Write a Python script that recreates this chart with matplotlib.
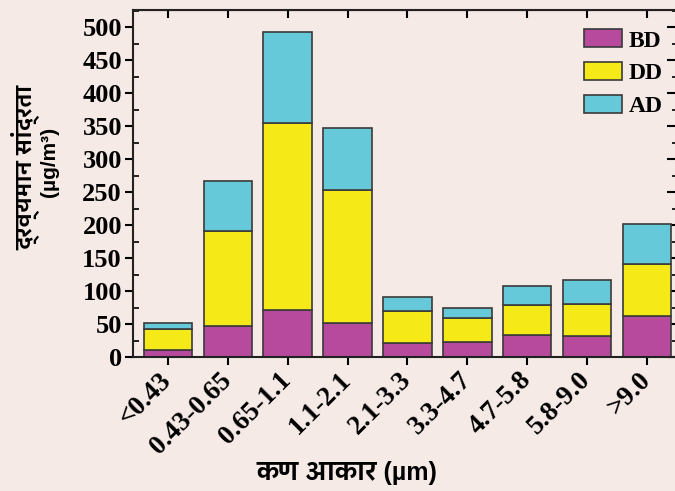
import matplotlib
matplotlib.use("Agg")
import matplotlib.pyplot as plt
from matplotlib import font_manager
from matplotlib.ticker import MultipleLocator, NullFormatter
import numpy as np

categories = ["<0.43", "0.43-0.65", "0.65-1.1", "1.1-2.1", "2.1-3.3",
              "3.3-4.7", "4.7-5.8", "5.8-9.0", ">9.0"]
bd = [10, 47, 71, 51, 21, 22, 34, 32, 62]
dd = [33, 144, 284, 202, 48, 37, 45, 48, 79]
ad = [8, 76, 137, 94, 22, 16, 29, 36, 60]
series_names = ["BD", "DD", "AD"]
colors = ["#B84A9E", "#F5E918", "#66C9DA"]
ylabel_hi = "द्रव्यमान सांद्रता"
ylabel_unit = "(µg/m³)"
xlabel_hi = "कण आकार (µm)"


def find_font_with(ch):
    try:
        from fontTools.ttLib import TTFont
    except Exception:
        return None
    cands = []
    for f in font_manager.fontManager.ttflist:
        try:
            tt = TTFont(f.fname, fontNumber=0, lazy=True)
            cmap = tt.getBestCmap()
            if cmap and ord(ch) in cmap:
                score = 0
                if "sans" in f.name.lower():
                    score += 2
                if "serif" in f.name.lower():
                    score -= 2
                if f.weight in ("bold", 700):
                    score += 1
                cands.append((score, f.name))
        except Exception:
            continue
    if not cands:
        return None
    cands.sort(key=lambda t: -t[0])
    return cands[0][1]


deva = find_font_with("द")
fam = ["Liberation Sans"] + ([deva] if deva else []) + ["DejaVu Sans"]

bg = "#F6EAE6"
fig = plt.figure(figsize=(6.75, 4.91), dpi=100, facecolor=bg)
left_px, right_px, top_px, bot_px = 133, 678, 10, 357
ax = fig.add_axes([left_px / 675, 1 - bot_px / 491,
                   (right_px - left_px) / 675, (bot_px - top_px) / 491])
ax.set_facecolor(bg)

x = np.arange(len(categories))
bottom = np.zeros(len(categories))
handles = []
for vals, name, c in zip([bd, dd, ad], series_names, colors):
    h = ax.bar(x, vals, width=0.81, bottom=bottom, color=c, edgecolor="#3a3a3a",
               linewidth=1.2, label=name)
    handles.append(h)
    bottom += np.array(vals)

ax.set_xlim(-0.585, 8.52)
ax.set_ylim(0, 526)
ax.yaxis.set_major_locator(MultipleLocator(50))
ax.yaxis.set_minor_locator(MultipleLocator(25))
ax.set_xticks(x)
ax.set_xticklabels(categories, rotation=45, ha="right", va="center",
                   rotation_mode="anchor", fontfamily="Liberation Serif",
                   fontweight="bold", fontsize=19.5)
for lab in ax.get_yticklabels():
    lab.set_fontfamily("Liberation Serif")
    lab.set_fontweight("bold")
    lab.set_fontsize(19)

ax.tick_params(axis="y", which="major", direction="out", length=6, width=1.5, pad=2)
ax.tick_params(axis="y", which="minor", direction="in", length=4, width=1.2)
ax.tick_params(axis="x", which="major", direction="out", length=6, width=1.5, pad=8)
for s in ax.spines.values():
    s.set_linewidth(1.5)
    s.set_color("#222222")

# top ticks pointing inward
secx = ax.secondary_xaxis("top")
secx.set_xticks(x)
secx.xaxis.set_major_formatter(NullFormatter())
secx.tick_params(direction="in", length=6, width=1.5)
# right ticks pointing inward
secy = ax.secondary_yaxis("right")
secy.yaxis.set_major_locator(MultipleLocator(50))
secy.yaxis.set_minor_locator(MultipleLocator(25))
secy.yaxis.set_major_formatter(NullFormatter())
secy.tick_params(which="major", direction="in", length=8, width=1.5)
secy.tick_params(which="minor", direction="in", length=4, width=1.2)

leg = ax.legend(handles=handles, loc="upper right", bbox_to_anchor=(0.998, 0.985),
                frameon=False, prop={"family": "Liberation Serif", "weight": "bold", "size": 17},
                handlelength=1.6, handleheight=0.8, labelspacing=0.45,
                handletextpad=0.3, borderaxespad=0.2)

fig.text(26 / 675, 1 - 167 / 491, ylabel_hi, rotation=90, ha="center", va="center",
         fontsize=16, fontweight="bold", family=fam)
fig.text(50 / 675, 1 - 162 / 491, ylabel_unit, rotation=90, ha="center", va="center",
         fontsize=15, fontweight="bold", family=fam)
fig.text(347 / 675, 1 - 473 / 491, xlabel_hi, ha="center", va="center",
         fontsize=18, fontweight="bold", family=fam)

fig.savefig("out.png", dpi=100, facecolor=bg)
